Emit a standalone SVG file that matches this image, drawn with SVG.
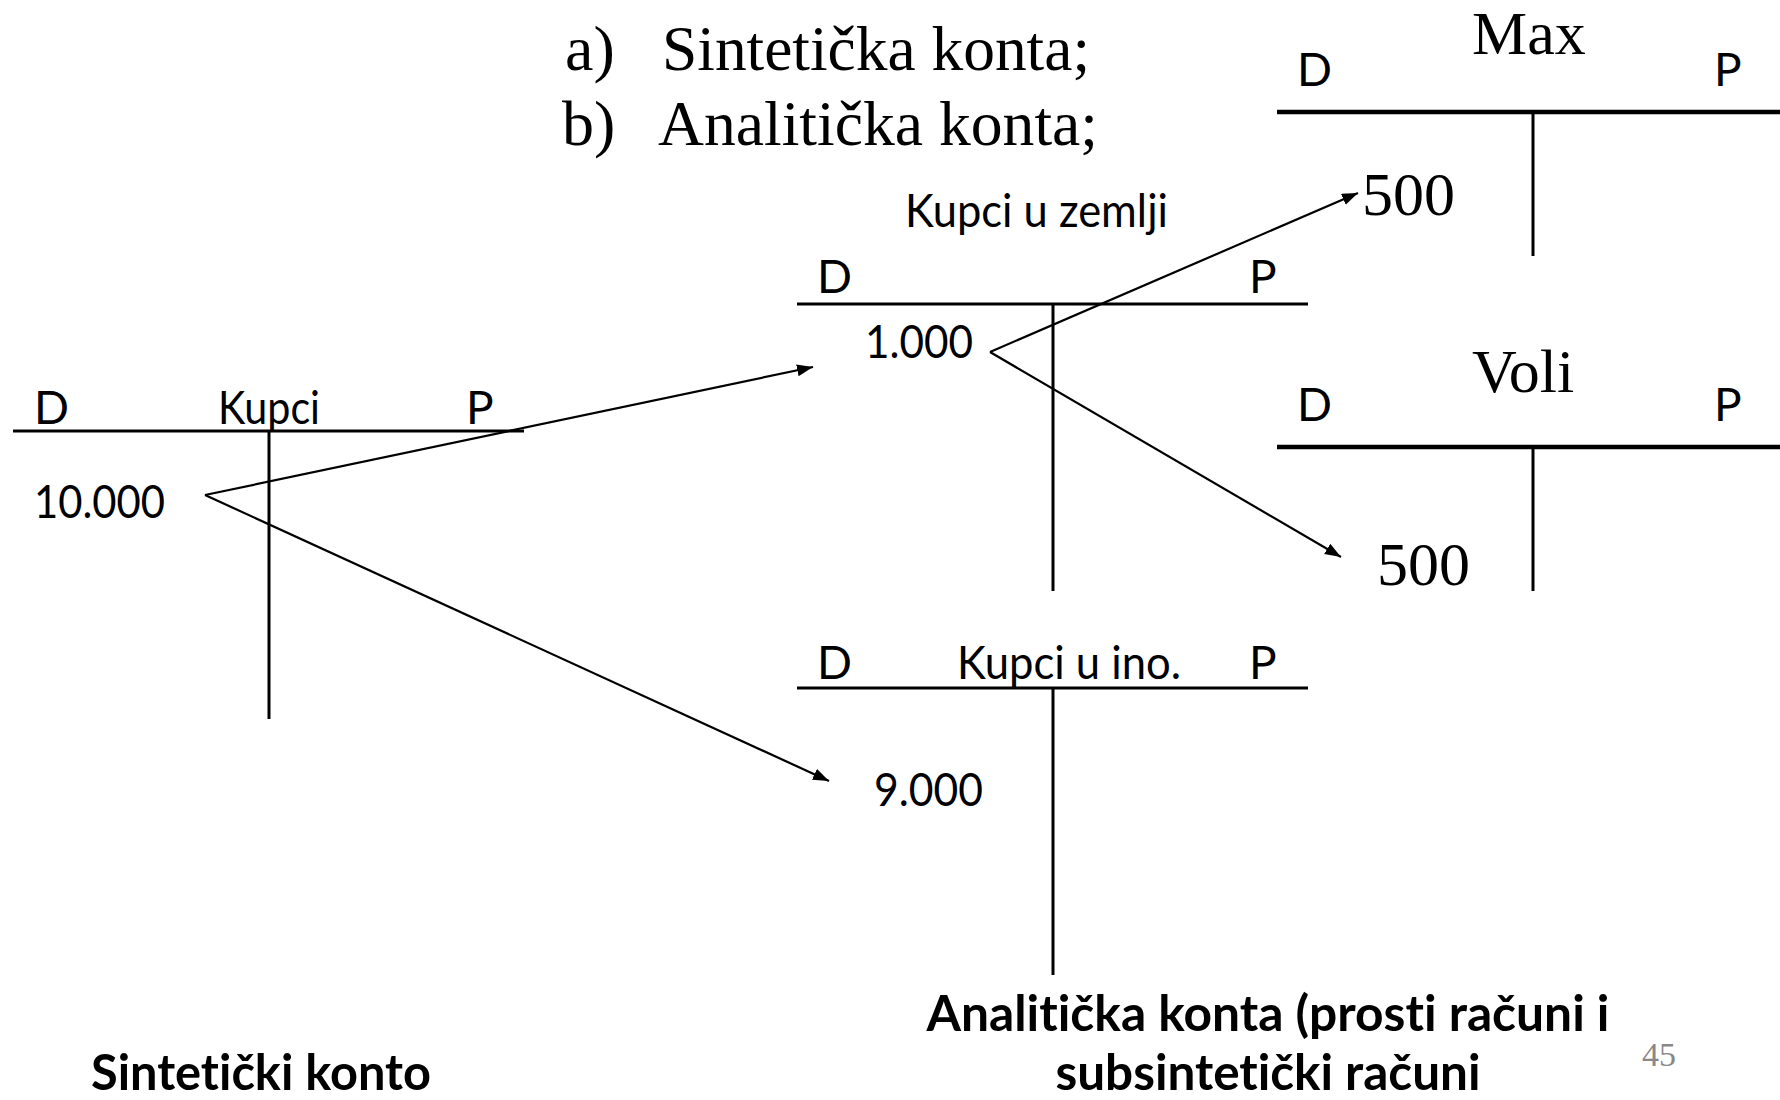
<svg xmlns="http://www.w3.org/2000/svg" width="1780" height="1100" viewBox="0 0 1780 1100">
<style>
text{font-variant-ligatures:none;font-feature-settings:"liga" 0,"clig" 0}
.serif{font-family:"Liberation Serif","Times New Roman",serif;fill:#000}
.sans{font-family:Lato,"Open Sans","Liberation Sans",sans-serif;fill:#000;font-size:46px}
.bold{font-family:Lato,"Open Sans","Liberation Sans",sans-serif;fill:#000;font-size:50px;font-weight:bold}
.thin{stroke:#000;stroke-width:3;fill:none}
.thick{stroke:#000;stroke-width:4.5;fill:none}
.conn{stroke:#000;stroke-width:2.2;fill:none}
</style>
<defs>
<marker id="arr" markerUnits="userSpaceOnUse" markerWidth="18" markerHeight="14" refX="16" refY="6" orient="auto">
<path d="M0,0 L16,6 L0,12 z" fill="#000"/>
</marker>
</defs>
<rect width="1780" height="1100" fill="#fff"/>

<g id="list">
<text class="serif" x="565" y="70" font-size="64">a)</text>
<text class="serif" x="662" y="70" font-size="64" textLength="428" lengthAdjust="spacingAndGlyphs">Sintetička konta;</text>
<text class="serif" x="562" y="145" font-size="64">b)</text>
<text class="serif" x="658" y="145" font-size="64" textLength="440" lengthAdjust="spacingAndGlyphs">Analitička konta;</text>
</g>

<g id="kupci">
<text class="sans" x="34" y="424">D</text>
<text class="sans" x="218" y="424" textLength="102" lengthAdjust="spacingAndGlyphs">Kupci</text>
<text class="sans" x="466" y="424">P</text>
<line class="thin" x1="13" y1="431" x2="524" y2="431"/>
<line class="thin" x1="269" y1="431" x2="269" y2="719"/>
<text class="sans" x="34" y="518" textLength="131" lengthAdjust="spacingAndGlyphs">10.000</text>
</g>

<g id="kupci-u-zemlji">
<text class="sans" x="905" y="227" textLength="263" lengthAdjust="spacingAndGlyphs">Kupci u zemlji</text>
<text class="sans" x="817" y="293">D</text>
<text class="sans" x="1249" y="293">P</text>
<line class="thin" x1="797" y1="304" x2="1308" y2="304"/>
<line class="thin" x1="1053" y1="304" x2="1053" y2="591"/>
<text class="sans" x="865" y="358" textLength="108" lengthAdjust="spacingAndGlyphs">1.000</text>
</g>

<g id="kupci-u-ino">
<text class="sans" x="817" y="679">D</text>
<text class="sans" x="957" y="679" textLength="224" lengthAdjust="spacingAndGlyphs">Kupci u ino.</text>
<text class="sans" x="1249" y="679">P</text>
<line class="thin" x1="797" y1="688" x2="1308" y2="688"/>
<line class="thin" x1="1053" y1="688" x2="1053" y2="975"/>
<text class="sans" x="874" y="806" textLength="109" lengthAdjust="spacingAndGlyphs">9.000</text>
</g>

<g id="max">
<text class="serif" x="1472" y="54" font-size="62">Max</text>
<text class="sans" x="1297" y="86">D</text>
<text class="sans" x="1714" y="86">P</text>
<line class="thick" x1="1277" y1="112" x2="1780" y2="112"/>
<line class="thin" x1="1533" y1="112" x2="1533" y2="256"/>
<text class="serif" x="1362" y="215" font-size="62">500</text>
</g>

<g id="voli">
<text class="serif" x="1472" y="392" font-size="62">Voli</text>
<text class="sans" x="1297" y="421">D</text>
<text class="sans" x="1714" y="421">P</text>
<line class="thick" x1="1277" y1="447" x2="1780" y2="447"/>
<line class="thin" x1="1533" y1="447" x2="1533" y2="591"/>
<text class="serif" x="1377" y="585" font-size="62">500</text>
</g>

<g id="connectors">
<line class="conn" x1="205" y1="495" x2="813" y2="367" marker-end="url(#arr)"/>
<line class="conn" x1="205" y1="495" x2="829" y2="781" marker-end="url(#arr)"/>
<line class="conn" x1="990" y1="352" x2="1358" y2="193" marker-end="url(#arr)"/>
<line class="conn" x1="990" y1="352" x2="1341" y2="557" marker-end="url(#arr)"/>
</g>

<g id="captions">
<text class="bold" x="91" y="1090" textLength="340" lengthAdjust="spacingAndGlyphs">Sintetički konto</text>
<text class="bold" x="1268" y="1031" text-anchor="middle" textLength="683" lengthAdjust="spacingAndGlyphs">Analitička konta (prosti računi i</text>
<text class="bold" x="1268" y="1090" text-anchor="middle" textLength="425" lengthAdjust="spacingAndGlyphs">subsintetički računi</text>
<text class="serif" x="1642" y="1066" font-size="34" style="fill:#888">45</text>
</g>
</svg>
